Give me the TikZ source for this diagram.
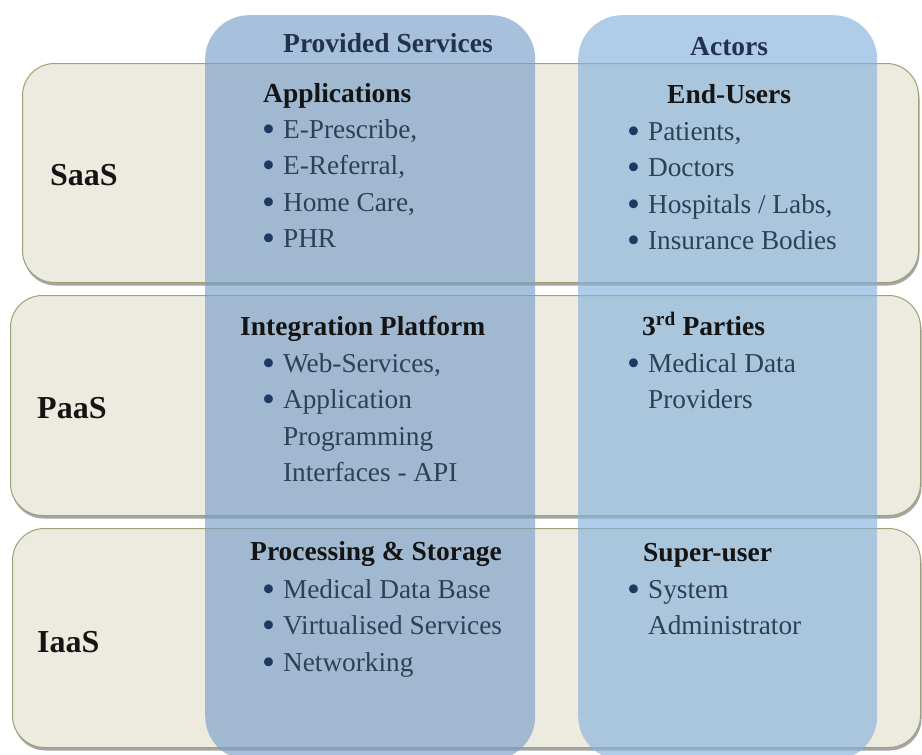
\documentclass[tikz,border=0pt]{standalone}
\usepackage{fontspec}
\setmainfont{Liberation Serif}
\usetikzlibrary{shadows}
\definecolor{rowfill}{HTML}{EDEBE0}
\definecolor{rowline}{HTML}{9EA176}
\definecolor{colA}{RGB}{121,159,200}
\definecolor{colB}{RGB}{133,179,220}
\definecolor{itemtxt}{HTML}{2E3F58}
\definecolor{bulcol}{HTML}{1F3A62}
\definecolor{headblue}{HTML}{22324C}
\newcommand\bdot{\raisebox{-3pt}{\scalebox{1.35}{\textcolor{bulcol}{\textbullet}}}}
\newcommand\blist[1]{\begin{tabular}[t]{@{}l@{\hspace{8pt}}l@{}}#1\end{tabular}}
\begin{document}
\begin{tikzpicture}[x=1pt,y=-1pt,
  rowbox/.style={draw=rowline, line width=1pt, fill=rowfill, rounded corners=32pt,
    inner sep=0pt, anchor=north west,
    drop shadow={shadow xshift=1pt, shadow yshift=-3pt, opacity=0.5, fill=black!70}},
  colbox/.style={fill=#1, fill opacity=0.65, draw=none, rounded corners=44pt,
    inner sep=0pt, anchor=north west},
  layer/.style={font=\fontsize{32}{36}\selectfont\bfseries, text=black!92, anchor=base west, inner sep=0pt},
  head/.style={font=\fontsize{27.5}{33}\selectfont\bfseries, text=black!92, anchor=base west, inner sep=0pt},
  colhead/.style={font=\fontsize{27.5}{33}\selectfont\bfseries, text=headblue, anchor=base west, inner sep=0pt},
  items/.style={font=\fontsize{27.3}{36.6}\selectfont, text=itemtxt, anchor=base west, inner sep=0pt}]
\useasboundingbox (0,0) rectangle (922,755);
\fill[white] (0,0) rectangle (922,755);
% layers (rows)
\node[rowbox, minimum width=896pt, minimum height=219pt] (saas) at (22,63) {};
\node[rowbox, minimum width=910pt, minimum height=220pt] (paas) at (10,295) {};
\node[rowbox, minimum width=908pt, minimum height=219pt] (iaas) at (12,528) {};
% columns
\node[colbox=colA, minimum width=330pt, minimum height=745pt] (services) at (205,15) {};
\node[colbox=colB, minimum width=299pt, minimum height=745pt] (actors) at (578,15) {};
% column headings
\node[colhead] (pshead) at (283,52) {Provided Services};
\node[colhead] (acthead) at (690,55) {Actors};
% layer labels
\node[layer] (saasL) at (50,185) {SaaS};
\node[layer] (paasL) at (37,418) {PaaS};
\node[layer] (iaasL) at (37,652) {IaaS};
% SaaS row
\node[head] (app) at (263,102) {Applications};
\node[items] (appl) at (262,138) {\blist{\bdot & E-Prescribe,\\ \bdot & E-Referral,\\ \bdot & Home Care,\\ \bdot & PHR}};
\node[head] (eu) at (667,103) {End-Users};
\node[items] (eul) at (627,140) {\blist{\bdot & Patients,\\ \bdot & Doctors\\ \bdot & Hospitals / Labs,\\ \bdot & Insurance Bodies}};
% PaaS row
\node[head] (ip) at (240,335) {Integration Platform};
\node[items] (ipl) at (262,372) {\blist{\bdot & Web-Services,\\ \bdot & Application\\ & Programming\\ & Interfaces - API}};
\node[head] (tp) at (642,335) {3\textsuperscript{rd} Parties};
\node[items] (tpl) at (627,372) {\blist{\bdot & Medical Data\\ & Providers}};
% IaaS row
\node[head] (pst) at (250,560) {Processing \& Storage};
\node[items] (pstl) at (262,598) {\blist{\bdot & Medical Data Base\\ \bdot & Virtualised Services\\ \bdot & Networking}};
\node[head] (su) at (643,561) {Super-user};
\node[items] (sul) at (627,598) {\blist{\bdot & System\\ & Administrator}};
\end{tikzpicture}
\end{document}
